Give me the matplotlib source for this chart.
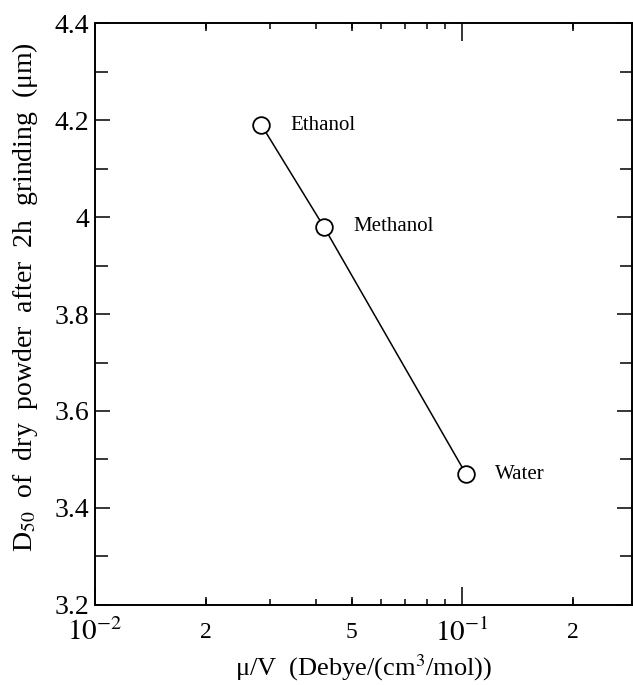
import matplotlib
matplotlib.use("Agg")
import matplotlib.pyplot as plt
from matplotlib.ticker import FixedLocator, FixedFormatter, NullFormatter

plt.rcParams['font.family'] = ['Liberation Serif', 'DejaVu Serif']
plt.rcParams['mathtext.fontset'] = 'stix'

solvents = ["Ethanol", "Methanol", "Water"]
mu_over_v = [0.0284, 0.042, 0.1024]
d50 = [4.19, 3.98, 3.47]

fig = plt.figure(figsize=(6.33, 6.85), dpi=100)
ax = fig.add_axes([0.150, 0.117, 0.8485, 0.849])

ax.plot(mu_over_v, d50, color='black', lw=1.1, marker='o', markersize=12,
        markerfacecolor='white', markeredgecolor='black', markeredgewidth=1.3, zorder=3)
for name, xv, yv in zip(solvents, mu_over_v, d50):
    ax.annotate(name, (xv, yv), xytext=(21, 0), textcoords='offset points',
                ha='left', va='center', fontsize=15)

ax.set_xscale('log')
ax.set_xlim(0.01, 0.29)
ax.set_ylim(3.2, 4.4)

ax.xaxis.set_major_locator(FixedLocator([0.01, 0.1]))
ax.xaxis.set_major_formatter(FixedFormatter([r'$10^{-2}$', r'$10^{-1}$']))
minor = [0.02, 0.03, 0.04, 0.05, 0.06, 0.07, 0.08, 0.09, 0.2]
ax.xaxis.set_minor_locator(FixedLocator(minor))
ax.xaxis.set_minor_formatter(FixedFormatter(['2', '', '', '5', '', '', '', '', '2']))

yt = [3.2, 3.4, 3.6, 3.8, 4.0, 4.2, 4.4]
ax.set_yticks(yt)
ax.set_yticklabels(['%g' % v for v in yt])
ax.yaxis.set_minor_locator(FixedLocator([3.3, 3.5, 3.7, 3.9, 4.1, 4.3]))

ax.tick_params(axis='both', which='both', direction='in', top=True, right=True,
               labelsize=20, width=1.1)
ax.tick_params(axis='x', which='major', length=13, pad=10, labelsize=21)
ax.tick_params(axis='x', which='minor', length=4, pad=12, labelsize=17)
ax.tick_params(axis='y', which='major', length=11, pad=4)
ax.tick_params(axis='y', which='minor', length=9)

# medium-length ticks at the labelled minor positions
for loc in ['bottom', 'top']:
    sec = ax.secondary_xaxis(loc)
    sec.xaxis.set_major_locator(FixedLocator([0.02, 0.05, 0.2]))
    sec.xaxis.set_major_formatter(NullFormatter())
    sec.xaxis.set_minor_locator(FixedLocator([]))
    sec.tick_params(which='both', direction='in', length=6, width=1.1)
    sec.spines[loc].set_visible(False)

for s in ax.spines.values():
    s.set_linewidth(1.4)

ax.set_xlabel(r'μ/V  (Debye/(cm$^3$/mol))', fontsize=19, labelpad=4)
ax.set_ylabel(r'D$_{50}$  of  dry  powder  after  2h  grinding  (μm)', fontsize=20)
ax.yaxis.set_label_coords(-0.102, 0.53)

fig.savefig('out.png', dpi=100)
